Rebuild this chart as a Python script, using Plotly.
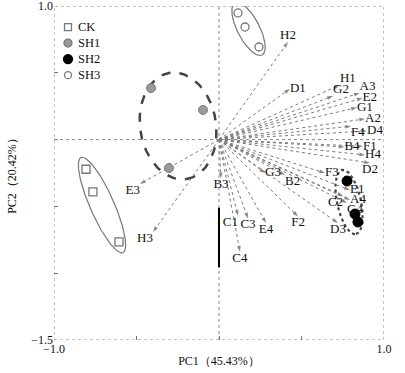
import numpy as np
import plotly.graph_objects as go

# ---------------- data ----------------
var_names = ["H2", "D1", "H1", "G2", "A3", "E2", "G1", "A2", "D4", "F4",
             "B4", "F1", "H4", "D2", "F3", "B2", "G3", "E1", "A4", "C2",
             "G4", "D3", "F2", "E4", "C3", "C1", "C4", "B3", "E3", "H3"]
pc1_load = [0.418, 0.430, 0.733, 0.691, 0.852, 0.870, 0.836, 0.885, 0.897, 0.800,
            0.760, 0.873, 0.885, 0.915, 0.642, 0.400, 0.279, 0.794, 0.794, 0.752,
            0.776, 0.721, 0.479, 0.285, 0.176, 0.115, 0.127, 0.012, -0.479, -0.400]
pc2_load = [0.731, 0.380, 0.409, 0.326, 0.349, 0.311, 0.240, 0.155, 0.065, 0.100,
            -0.055, -0.050, -0.115, -0.175, -0.250, -0.265, -0.250, -0.377, -0.452, -0.422,
            -0.474, -0.625, -0.575, -0.625, -0.590, -0.570, -0.840, -0.290, -0.332, -0.692]

groups = ["CK", "SH1", "SH2", "SH3"]
ck_x = [-0.806, -0.764, -0.606]
ck_y = [-0.222, -0.392, -0.766]
sh1_x = [-0.412, -0.097, -0.303]
sh1_y = [0.386, 0.222, -0.213]
sh2_x = [0.776, 0.824, 0.842]
sh2_y = [-0.310, -0.557, -0.617]
sh3_x = [0.115, 0.158, 0.242]
sh3_y = [0.948, 0.843, 0.693]

x_ticks = [-1.0, -0.5, 0.0, 0.5, 1.0]
x_tick_text = ["\u22121.0", "", "", "", "1.0"]
y_ticks = [1.0, 0.5, 0.0, -0.5, -1.0, -1.5]
y_tick_text = ["1.0", "", "", "", "", "\u22121.5"]

# ---------------- styles ----------------
label_pos = {
    "H2": "top center", "D1": "middle right", "H1": "top right", "G2": "top right",
    "A3": "top right", "E2": "middle right", "G1": "middle right", "A2": "middle right",
    "D4": "middle right", "F4": "bottom right", "B4": "middle right", "F1": "middle right",
    "H4": "middle right", "D2": "bottom center", "F3": "middle right", "B2": "bottom right",
    "G3": "middle right", "E1": "middle right", "A4": "middle right", "C2": "bottom left",
    "G4": "bottom right", "D3": "bottom center", "F2": "bottom center", "E4": "bottom center",
    "C3": "bottom center", "C1": "bottom left", "C4": "bottom center", "B3": "bottom center",
    "E3": "bottom left", "H3": "bottom left",
}

group_style = {
    "CK": dict(shape="rect", fill="rgba(0,0,0,0)", line="#777777", size=8),
    "SH1": dict(shape="circle", fill="#9a9a9a", line="#777777", size=9),
    "SH2": dict(shape="circle", fill="#000000", line="#000000", size=10),
    "SH3": dict(shape="circle", fill="rgba(0,0,0,0)", line="#777777", size=8),
}

# ellipse: center, conjugate semi-axis vectors (data units), line style
ellipses = {
    "CK": dict(c=(-0.709, -0.490), u=(0.127, -0.356), v=(0.0667, 0.036),
               color="#777777", width=1.2, dash="solid"),
    "SH1": dict(c=(-0.248, 0.102), u=(0.0515, -0.397), v=(0.227, 0.045),
                color="#444444", width=2.5, dash="dash"),
    "SH2": dict(c=(0.788, -0.467), u=(0.0424, -0.240), v=(0.0709, 0.0195),
                color="#444444", width=2.2, dash="dot"),
    "SH3": dict(c=(0.179, 0.828), u=(0.0818, -0.195), v=(0.0594, 0.038),
                color="#777777", width=1.2, dash="solid"),
}

FONT = "Liberation Serif"

fig = go.Figure()

# ellipses
t = np.linspace(0, 2 * np.pi, 200)
for name, e in ellipses.items():
    ex = e["c"][0] + e["u"][0] * np.cos(t) + e["v"][0] * np.sin(t)
    ey = e["c"][1] + e["u"][1] * np.cos(t) + e["v"][1] * np.sin(t)
    fig.add_trace(go.Scatter(x=ex, y=ey, mode="lines", showlegend=False,
                             hoverinfo="skip",
                             line=dict(color=e["color"], width=e["width"], dash=e["dash"])))

# arrows
for n, lx, ly in zip(var_names, pc1_load, pc2_load):
    fig.add_trace(go.Scatter(
        x=[0, lx], y=[0, ly], mode="lines+markers", showlegend=False, hoverinfo="skip",
        line=dict(color="#7a7a7a", width=1, dash="dot"),
        marker=dict(symbol=["circle", "arrow"], size=[0, 6], angleref="previous",
                    color="#555555", line=dict(width=0)),
    ))

# group points
group_xy = {"CK": (ck_x, ck_y), "SH1": (sh1_x, sh1_y),
            "SH2": (sh2_x, sh2_y), "SH3": (sh3_x, sh3_y)}
symbols = {"CK": "square-open", "SH1": "circle", "SH2": "circle", "SH3": "circle-open"}
for g in groups:
    gx, gy = group_xy[g]
    st = group_style[g]
    if symbols[g].endswith("open"):
        mk = dict(symbol=symbols[g], size=st["size"], color=st["line"], line=dict(width=1.3))
    else:
        mk = dict(symbol=symbols[g], size=st["size"], color=st["fill"],
                  line=dict(color=st["line"], width=1))
    fig.add_trace(go.Scatter(x=gx, y=gy, mode="markers", name=g, marker=mk,
                             showlegend=False))

# labels (on top)
fig.add_trace(go.Scatter(
    x=pc1_load, y=pc2_load, mode="text", text=var_names, showlegend=False,
    textposition=[label_pos[n] for n in var_names],
    textfont=dict(family=FONT, size=13, color="#111111"), hoverinfo="skip",
))

shapes = [
    dict(type="rect", xref="x", yref="y", x0=-1.0, x1=1.0, y0=-1.5, y1=1.0,
         line=dict(color="#888888", width=1, dash="dot")),
    dict(type="line", xref="x", yref="y", x0=-1.0, x1=1.0, y0=0, y1=0,
         line=dict(color="#888888", width=1, dash="dot")),
    dict(type="line", xref="x", yref="y", x0=0, x1=0, y0=-1.5, y1=1.0,
         line=dict(color="#888888", width=1, dash="dot")),
    dict(type="line", xref="x", yref="y", x0=0, x1=0, y0=-0.51, y1=-0.955,
         line=dict(color="#000000", width=2)),
]

# legend (drawn as pixel-sized shapes + text)
annotations = []
leg_x, leg_y0, leg_dy = 0.0424, 0.937, 0.048
for i, g in enumerate(groups):
    st = group_style[g]
    yy = leg_y0 - i * leg_dy
    h = st["size"] / 2 - 0.5
    shapes.append(dict(type=st["shape"], xref="paper", yref="paper",
                       xsizemode="pixel", ysizemode="pixel",
                       xanchor=leg_x, yanchor=yy, x0=-h, x1=h, y0=-h, y1=h,
                       fillcolor=st["fill"], line=dict(color=st["line"], width=1.3)))
    annotations.append(dict(xref="paper", yref="paper", x=leg_x + 0.025, y=yy,
                            xanchor="left", yanchor="middle", showarrow=False, text=g,
                            font=dict(family=FONT, size=12.5, color="#111111")))

fig.update_layout(
    width=405, height=373,
    margin=dict(l=54, r=21, t=6, b=33, autoexpand=False),
    paper_bgcolor="white", plot_bgcolor="white",
    font=dict(family=FONT, size=12, color="#111111"),
    shapes=shapes, annotations=annotations,
    showlegend=False,
    xaxis=dict(range=[-1.0, 1.0], tickvals=x_ticks, ticktext=x_tick_text,
               ticks="inside", ticklen=4, tickcolor="#777777", showgrid=False,
               zeroline=False, showline=False, ticklabeloverflow="allow",
               automargin=False,
               title=dict(text="PC1（45.43%）", font=dict(family=FONT, size=12), standoff=1),
               tickfont=dict(family=FONT, size=12)),
    yaxis=dict(range=[-1.5, 1.0], tickvals=y_ticks, ticktext=y_tick_text,
               ticks="inside", ticklen=4, tickcolor="#777777", showgrid=False,
               zeroline=False, showline=False, ticklabeloverflow="allow",
               automargin=False,
               title=dict(text="PC2（20.42%）", font=dict(family=FONT, size=12), standoff=12),
               tickfont=dict(family=FONT, size=12)),
)

fig.write_html("out.html", config={"displayModeBar": False},
               post_script="document.body.style.margin='0px';")
